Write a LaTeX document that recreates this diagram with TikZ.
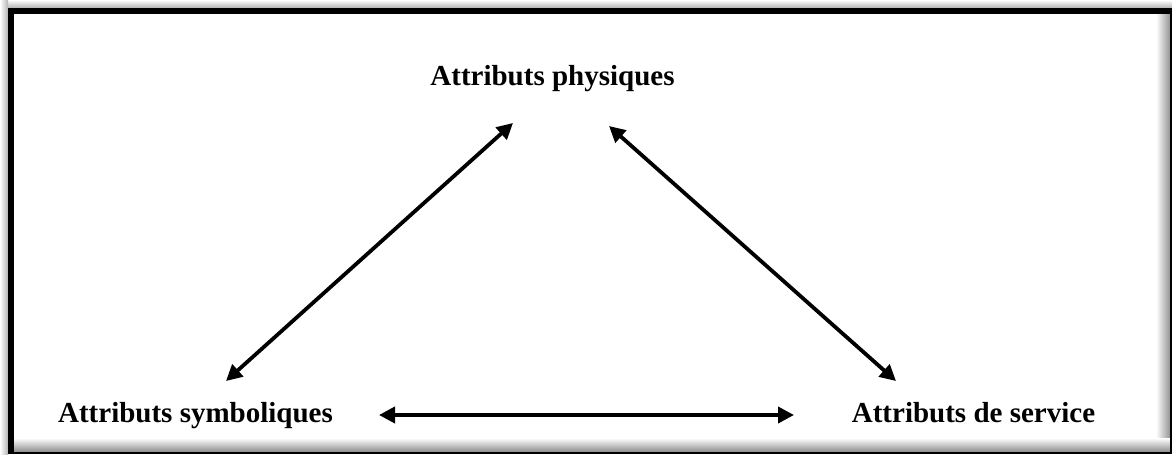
\documentclass[tikz,border=0pt]{standalone}
\usepackage{fontspec}
\setmainfont{Liberation Serif}
\usetikzlibrary{arrows.meta}
\begin{document}
\begin{tikzpicture}[x=1pt,y=-1pt,
  lbl/.style={font=\bfseries\fontsize{29}{34}\selectfont, anchor=base, inner sep=0pt},
  link/.style={line width=3.8pt, {Triangle[length=16pt,width=16pt]}-{Triangle[length=16pt,width=16pt]}}]
\useasboundingbox (0,0) rectangle (1175,455);
% outer glow (top and left)
\shade[top color=white, bottom color=black!30] (0,0) rectangle (1172,8);
\shade[left color=white, right color=black!30] (0,0) rectangle (8,455);
% inner shadow (bottom and right)
\shade[left color=white, right color=black!45] (1156,14) rectangle (1171,452);
\shade[top color=white, bottom color=black!45] (14,438) rectangle (1171,452);
% frame
\fill[black] (8,8) rectangle (1172,14);
\fill[black] (8,8) rectangle (14,454);
\draw[line width=1.5pt] (1171,8) -- (1171,454);
\draw[line width=1.5pt] (8,453) -- (1172,453);
% labels
\node[lbl] (phys) at (552.5,85) {Attributs physiques};
\node[lbl] (symb) at (195.5,422) {Attributs symboliques};
\node[lbl] (serv) at (973.5,422) {Attributs de service};
% arrow ends
\coordinate (pl) at (513,123);
\coordinate (pr) at (609,126);
\coordinate (sl) at (226,381);
\coordinate (sr) at (379,415);
\coordinate (vl) at (794,415);
\coordinate (vt) at (896,381);
\draw[link] (sl) -- (pl);
\draw[link] (pr) -- (vt);
\draw[link] (sr) -- (vl);
\end{tikzpicture}
\end{document}
